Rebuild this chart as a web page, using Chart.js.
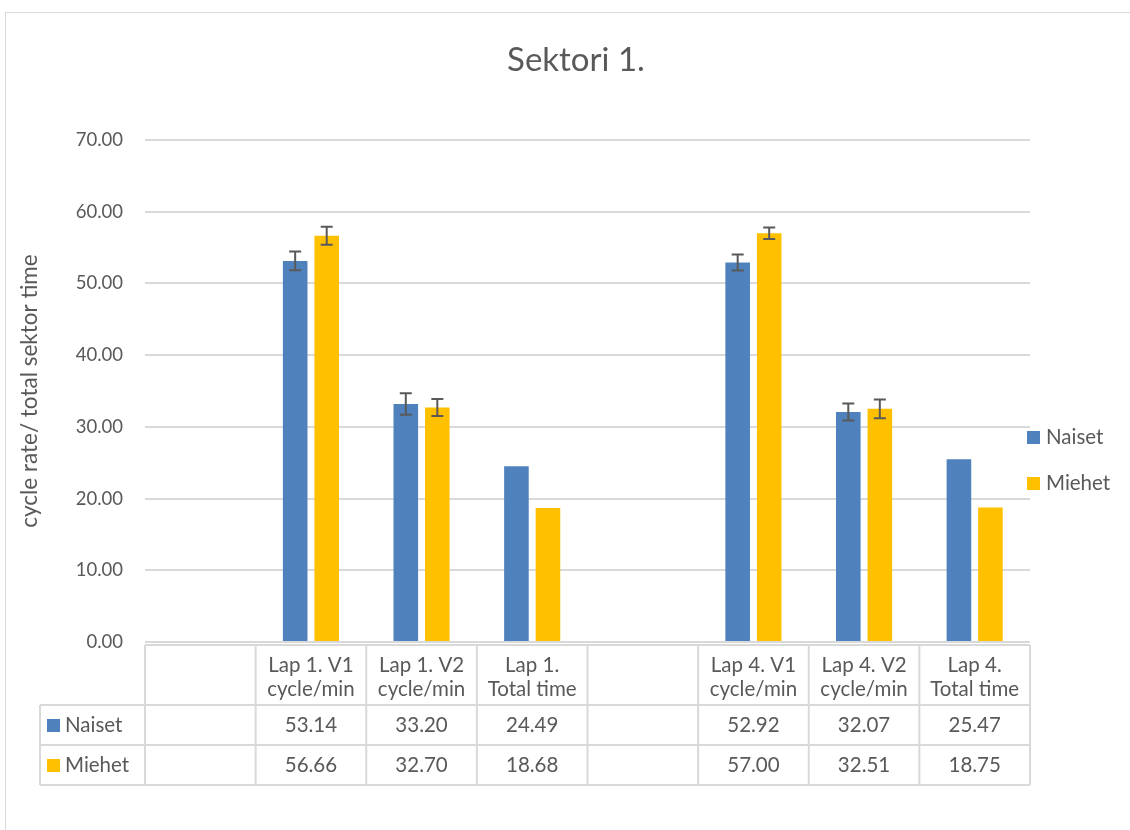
<!DOCTYPE html>
<html>
<head>
<meta charset="utf-8">
<script src="https://cdn.jsdelivr.net/npm/chart.js@4"></script>
<style>
  body { margin: 0; background: #fff; }
</style>
</head>
<body>
<canvas id="chart" width="1130" height="830"></canvas>
<script>
// data
const categories = [
  '', ['Lap 1. V1', 'cycle/min'], ['Lap 1. V2', 'cycle/min'], ['Lap 1.', 'Total time'],
  '', ['Lap 4. V1', 'cycle/min'], ['Lap 4. V2', 'cycle/min'], ['Lap 4.', 'Total time']
];
const naiset = [null, 53.14, 33.20, 24.49, null, 52.92, 32.07, 25.47];
const miehet = [null, 56.66, 32.70, 18.68, null, 57.00, 32.51, 18.75];
const naisetErr = [null, 1.3, 1.5, null, null, 1.1, 1.2, null];
const miehetErr = [null, 1.25, 1.2, null, null, 0.8, 1.3, null];
const seriesNames = ['Naiset', 'Miehet'];
const yTicks = [0, 10, 20, 30, 40, 50, 60, 70];

const blue = '#4F81BD';
const gold = '#FFC000';
const textColor = '#595959';
const lineColor = '#d9d9d9';
const fontFamily = 'Lato, "Liberation Sans", sans-serif';

// frame, title, error bars, legend and data table
const extras = {
  id: 'extras',
  beforeDraw(chart) {
    const ctx = chart.ctx;
    ctx.save();
    ctx.strokeStyle = lineColor;
    ctx.lineWidth = 1;
    ctx.strokeRect(5.5, 12.5, 1300, 1000);
    ctx.fillStyle = textColor;
    ctx.font = '33px ' + fontFamily;
    ctx.textAlign = 'center';
    ctx.textBaseline = 'middle';
    ctx.fillText('Sektori 1.', 576, 60);
    ctx.restore();
  },
  afterDatasetsDraw(chart) {
    const ctx = chart.ctx;
    const y = chart.scales.y;
    const errs = [naisetErr, miehetErr];
    ctx.save();
    ctx.strokeStyle = '#595959';
    ctx.lineWidth = 2;
    chart.data.datasets.forEach((ds, di) => {
      const meta = chart.getDatasetMeta(di);
      ds.data.forEach((v, i) => {
        const e = errs[di][i];
        if (v == null || e == null) return;
        const x = meta.data[i].x;
        const top = y.getPixelForValue(v + e);
        const bot = y.getPixelForValue(v - e);
        ctx.beginPath();
        ctx.moveTo(x, top); ctx.lineTo(x, bot);
        ctx.moveTo(x - 6, top); ctx.lineTo(x + 6, top);
        ctx.moveTo(x - 6, bot); ctx.lineTo(x + 6, bot);
        ctx.stroke();
      });
    });
    ctx.restore();
  },
  afterDraw(chart) {
    const ctx = chart.ctx;
    const area = chart.chartArea;
    const xs = chart.scales.x;
    const colors = [blue, gold];
    const rows = [645, 705, 745, 785];
    const n = categories.length;
    const step = (area.right - area.left) / n;
    const right = area.left + step * n;

    ctx.save();
    ctx.strokeStyle = lineColor;
    ctx.lineWidth = 2;
    ctx.beginPath();
    ctx.moveTo(area.left, rows[0]); ctx.lineTo(right, rows[0]);
    for (let r = 1; r < rows.length; r++) {
      ctx.moveTo(40, rows[r]); ctx.lineTo(right, rows[r]);
    }
    ctx.moveTo(40, rows[1]); ctx.lineTo(40, rows[3]);
    for (let i = 0; i <= n; i++) {
      const x = area.left + step * i;
      ctx.moveTo(x, rows[0]); ctx.lineTo(x, rows[3]);
    }
    ctx.stroke();

    ctx.fillStyle = textColor;
    ctx.font = '20.5px ' + fontFamily;
    ctx.textAlign = 'center';
    ctx.textBaseline = 'middle';
    categories.forEach((c, i) => {
      const x = xs.getPixelForValue(i);
      const lines = Array.isArray(c) ? c : [c];
      lines.forEach((t, k) => ctx.fillText(t, x, 665 + k * 24));
    });
    [naiset, miehet].forEach((vals, r) => {
      const cy = (rows[r + 1] + rows[r + 2]) / 2;
      vals.forEach((v, i) => {
        if (v == null) return;
        ctx.fillText(v.toFixed(2), xs.getPixelForValue(i), cy);
      });
      ctx.fillStyle = colors[r];
      ctx.fillRect(47, cy - 6, 13, 13);
      ctx.fillStyle = textColor;
      ctx.textAlign = 'left';
      ctx.fillText(seriesNames[r], 65, cy);
      ctx.textAlign = 'center';
    });

    // legend on the right
    ctx.textAlign = 'left';
    [437, 483].forEach((cy, r) => {
      ctx.fillStyle = colors[r];
      ctx.fillRect(1027, cy - 6, 13, 13);
      ctx.fillStyle = textColor;
      ctx.fillText(seriesNames[r], 1046, cy);
    });
    ctx.restore();
  }
};

const ctx = document.getElementById('chart');
new Chart(ctx, {
  type: 'bar',
  data: {
    labels: categories,
    datasets: [
      { label: seriesNames[0], data: naiset, backgroundColor: blue, categoryPercentage: 0.57, barPercentage: 0.78 },
      { label: seriesNames[1], data: miehet, backgroundColor: gold, categoryPercentage: 0.57, barPercentage: 0.78 }
    ]
  },
  options: {
    responsive: false,
    animation: false,
    layout: {
      padding: { left: 8, top: 140, right: 100, bottom: 188 }
    },
    scales: {
      x: {
        display: false
      },
      y: {
        min: 0,
        max: 70,
        afterBuildTicks: (s) => { s.ticks = yTicks.map(v => ({ value: v })); },
        afterFit: (s) => { s.width = 137; },
        border: { display: false },
        grid: { color: lineColor, lineWidth: 2, drawTicks: false },
        ticks: {
          padding: 22,
          color: textColor,
          font: { family: fontFamily, size: 18.5 },
          callback: (v) => Number(v).toFixed(2)
        },
        title: {
          display: true,
          text: 'cycle rate/ total sektor time',
          color: textColor,
          font: { family: fontFamily, size: 22.5 },
          padding: { top: 8, bottom: 0 }
        }
      }
    },
    plugins: {
      legend: { display: false },
      tooltip: { enabled: false },
      title: { display: false }
    }
  },
  plugins: [extras]
});
</script>
</body>
</html>
